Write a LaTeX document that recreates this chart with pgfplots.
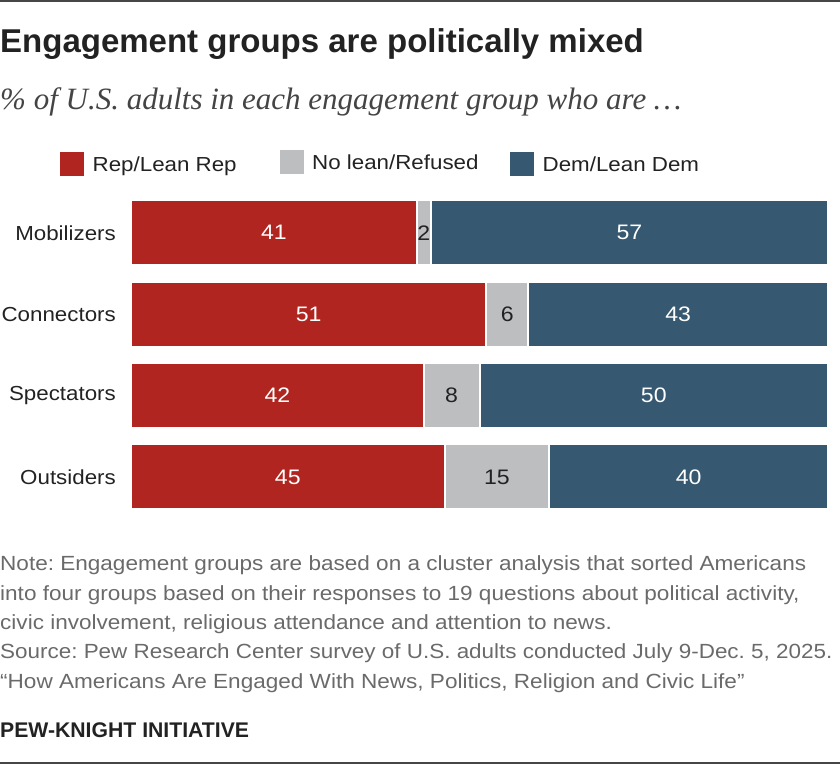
\documentclass[border=0pt]{standalone}
\usepackage{fontspec}
\usepackage{pgfplots}
\pgfplotsset{compat=1.18}
\setmainfont{Liberation Sans}
\newfontfamily\wide{Liberation Sans}[FakeStretch=1.1]
\newfontfamily\widesrc{Liberation Sans}[FakeStretch=1.095]
\newfontfamily\serif{Liberation Serif}
\definecolor{repred}{HTML}{B0251F}
\definecolor{nolean}{HTML}{BCBEC0}
\definecolor{demblue}{HTML}{365870}
\definecolor{txt}{HTML}{222222}
\definecolor{subc}{HTML}{444444}
\definecolor{notec}{HTML}{6A6A6A}
\definecolor{rulec}{HTML}{464646}
\frenchspacing
\begin{document}
\frenchspacing
\begin{tikzpicture}
\fill[rulec] (0pt,0pt) rectangle (840pt,-2.3pt);
\fill[rulec] (0pt,-761.7pt) rectangle (840pt,-764pt);
\node[anchor=base west, inner sep=0pt, text=txt, font=\bfseries\fontsize{33}{36}\selectfont] at (0pt,-52.5pt) {Engagement groups are politically mixed};
\node[anchor=base west, inner sep=0pt, text=subc, font=\serif\itshape\fontsize{31}{34}\selectfont] at (0pt,-109pt) {\% of U.S. adults in each engagement group who are …};
% legend
\fill[repred] (60pt,-152pt) rectangle (84pt,-176pt);
\node[anchor=base west, inner sep=0pt, font=\wide\fontsize{20.3}{22}\selectfont, text=txt] at (92.5pt,-171pt) {Rep/Lean Rep};
\fill[nolean] (280pt,-150pt) rectangle (304pt,-174pt);
\node[anchor=base west, inner sep=0pt, font=\wide\fontsize{20.3}{22}\selectfont, text=txt] at (312pt,-169pt) {No lean/Refused};
\fill[demblue] (510pt,-152pt) rectangle (534pt,-176pt);
\node[anchor=base west, inner sep=0pt, font=\wide\fontsize{20.3}{22}\selectfont, text=txt] at (542.5pt,-171pt) {Dem/Lean Dem};
% bars
\begin{axis}[at={(131pt,-508.7pt)}, anchor=south west, scale only axis,
  width=697pt, height=307.7pt, xmin=0, xmax=100, ymin=-0.39, ymax=3.39,
  xbar stacked, bar width=65pt,
  axis line style={draw=none}, major tick length=0pt, xtick=\empty,
  ytick={0,1,2,3}, yticklabels={Outsiders,Spectators,Connectors,Mobilizers},
  yticklabel style={inner sep=0pt, xshift=-15pt, font=\wide\fontsize{20.3}{22}\selectfont, text=txt},
  clip=false]
\addplot[fill=repred, draw=white, line width=2pt] coordinates {(41,3) (51,2) (42,1) (45,0)};
\addplot[fill=nolean, draw=white, line width=2pt] coordinates {(2,3) (6,2) (8,1) (15,0)};
\addplot[fill=demblue, draw=white, line width=2pt] coordinates {(57,3) (43,2) (50,1) (40,0)};
\end{axis}
% value labels
\begin{axis}[at={(131pt,-508.7pt)}, anchor=south west, scale only axis,
  width=697pt, height=307.7pt, xmin=0, xmax=100, ymin=-0.39, ymax=3.39,
  hide axis, clip=false,
  nodes near coords, point meta=explicit symbolic,
  every node near coord/.append style={anchor=center, inner sep=0pt, font=\wide\fontsize{21}{22}\selectfont}]
\addplot[draw=none, mark=none, nodes near coords style={text=white}] coordinates {(20.5,3)[41] (25.5,2)[51] (21,1)[42] (22.5,0)[45]};
\addplot[draw=none, mark=none, nodes near coords style={text=txt}] coordinates {(42,3)[2] (54,2)[6] (46,1)[8] (52.5,0)[15]};
\addplot[draw=none, mark=none, nodes near coords style={text=white}] coordinates {(71.5,3)[57] (78.5,2)[43] (75,1)[50] (80,0)[40]};
\end{axis}
% notes
\begin{scope}[every node/.style={anchor=base west, inner sep=0pt, text=notec, font=\wide\fontsize{20.5}{22}\selectfont}]
\node at (0pt,-570.7pt) {Note: Engagement groups are based on a cluster analysis that sorted Americans};
\node at (0pt,-600pt) {into four groups based on their responses to 19 questions about political activity,};
\node at (0pt,-629.3pt) {civic involvement, religious attendance and attention to news.};
\node[font=\widesrc\fontsize{20.5}{22}\selectfont] at (0pt,-658.6pt) {Source: Pew Research Center survey of U.S. adults conducted July 9-Dec. 5, 2025.};
\node at (0pt,-688pt) {“How Americans Are Engaged With News, Politics, Religion and Civic Life”};
\end{scope}
\node[anchor=base west, inner sep=0pt, text=txt, font=\bfseries\fontsize{21.2}{23}\selectfont] at (0pt,-737.3pt) {PEW-KNIGHT INITIATIVE};
\pgfresetboundingbox
\path[use as bounding box] (0pt,0pt) rectangle (840pt,-764pt);
\end{tikzpicture}
\end{document}
